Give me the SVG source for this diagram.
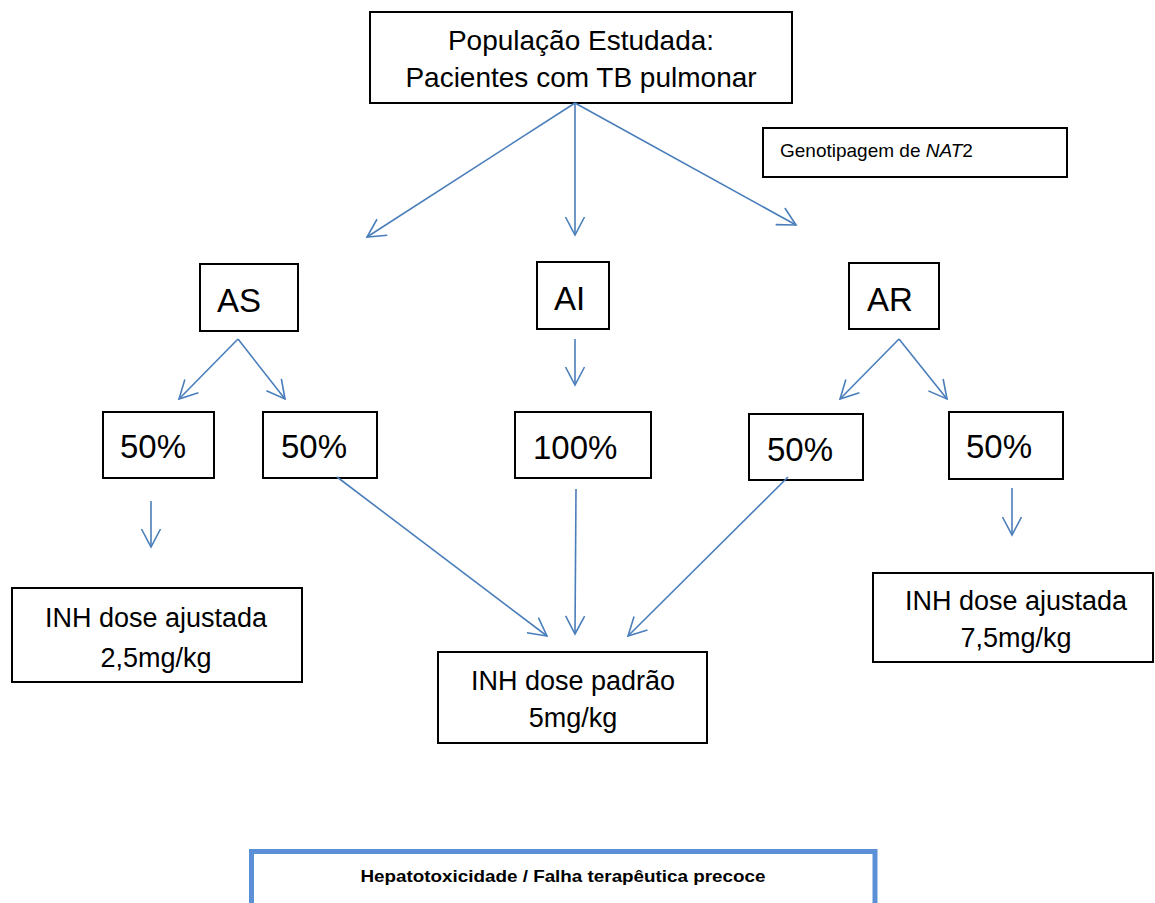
<svg xmlns="http://www.w3.org/2000/svg" width="1155" height="903" viewBox="0 0 1155 903">
<style>
  .box { fill: #ffffff; stroke: #000000; stroke-width: 2; }
  .t { font-family: "Liberation Sans", Arial, sans-serif; fill: #000000; }
  .big { font-size: 33px; }
  .mid { font-size: 27px; text-anchor: middle; }
  .conn line { stroke: #4A7EBB; stroke-width: 1.6; fill: none; marker-end: url(#arr); }
</style>
<defs>
  <marker id="arr" markerUnits="userSpaceOnUse" viewBox="-20 -11 22 22" refX="0" refY="0" markerWidth="22" markerHeight="22" orient="auto" overflow="visible">
    <path d="M-18,-9.5 L0,0 L-18,9.5" fill="none" stroke="#4A7EBB" stroke-width="1.6"/>
  </marker>
</defs>
<rect width="1155" height="903" fill="#ffffff"/>

<g id="pop">
  <rect class="box" x="370" y="12" width="422" height="91"/>
  <text class="t mid" x="581" y="50" style="font-size:28px">População Estudada:</text>
  <text class="t mid" x="581" y="87" style="font-size:28px">Pacientes com TB pulmonar</text>
</g>

<g id="geno">
  <rect class="box" x="763" y="128" width="304" height="49"/>
  <text class="t" x="780" y="157" style="font-size:19px">Genotipagem de <tspan font-style="italic">NAT</tspan>2</text>
</g>

<g id="as">
  <rect class="box" x="200" y="264" width="98" height="67"/>
  <text class="t big" x="217" y="312">AS</text>
</g>
<g id="ai">
  <rect class="box" x="537" y="262" width="72" height="67"/>
  <text class="t big" x="554" y="310">AI</text>
</g>
<g id="ar">
  <rect class="box" x="849" y="263" width="90" height="66"/>
  <text class="t big" x="867" y="311">AR</text>
</g>

<g id="as50a">
  <rect class="box" x="103" y="412" width="111" height="66"/>
  <text class="t big" x="120" y="458">50%</text>
</g>
<g id="as50b">
  <rect class="box" x="263" y="412" width="114" height="66"/>
  <text class="t big" x="281" y="458">50%</text>
</g>
<g id="ai100">
  <rect class="box" x="515" y="412" width="136" height="66"/>
  <text class="t big" x="533" y="459">100%</text>
</g>
<g id="ar50a">
  <rect class="box" x="749" y="414" width="114" height="66"/>
  <text class="t big" x="767" y="461">50%</text>
</g>
<g id="ar50b">
  <rect class="box" x="949" y="412" width="114" height="67"/>
  <text class="t big" x="966" y="458">50%</text>
</g>

<g id="dose25">
  <rect class="box" x="12" y="588" width="290" height="94"/>
  <text class="t mid" x="156" y="627">INH dose ajustada</text>
  <text class="t mid" x="156" y="667">2,5mg/kg</text>
</g>
<g id="dose5">
  <rect class="box" x="438" y="652" width="269" height="91"/>
  <text class="t mid" x="573" y="690">INH dose padrão</text>
  <text class="t mid" x="573" y="727">5mg/kg</text>
</g>
<g id="dose75">
  <rect class="box" x="873" y="573" width="280" height="89"/>
  <text class="t mid" x="1016" y="610">INH dose ajustada</text>
  <text class="t mid" x="1016" y="647">7,5mg/kg</text>
</g>

<g id="outcome">
  <rect x="251.5" y="851.5" width="623.5" height="56" fill="#ffffff" stroke="#5B8FD6" stroke-width="5"/>
  <text class="t" x="563" y="882" text-anchor="middle" font-weight="bold" style="font-size:17px" textLength="405" lengthAdjust="spacingAndGlyphs">Hepatotoxicidade / Falha terapêutica precoce</text>
</g>

<g id="connectors" class="conn">
  <line x1="575" y1="103" x2="367" y2="237"/>
  <line x1="575" y1="103" x2="575" y2="235"/>
  <line x1="575" y1="103" x2="796" y2="225"/>
  <line x1="238" y1="339" x2="179" y2="399"/>
  <line x1="238" y1="339" x2="285" y2="399"/>
  <line x1="575" y1="339" x2="575" y2="385"/>
  <line x1="899" y1="339" x2="840" y2="399"/>
  <line x1="899" y1="339" x2="947" y2="399"/>
  <line x1="151" y1="501" x2="151" y2="547"/>
  <line x1="1012" y1="488" x2="1012" y2="535"/>
  <line x1="337" y1="477" x2="547" y2="636"/>
  <line x1="576" y1="489" x2="575" y2="634"/>
  <line x1="788" y1="477" x2="628" y2="636"/>
</g>
</svg>
